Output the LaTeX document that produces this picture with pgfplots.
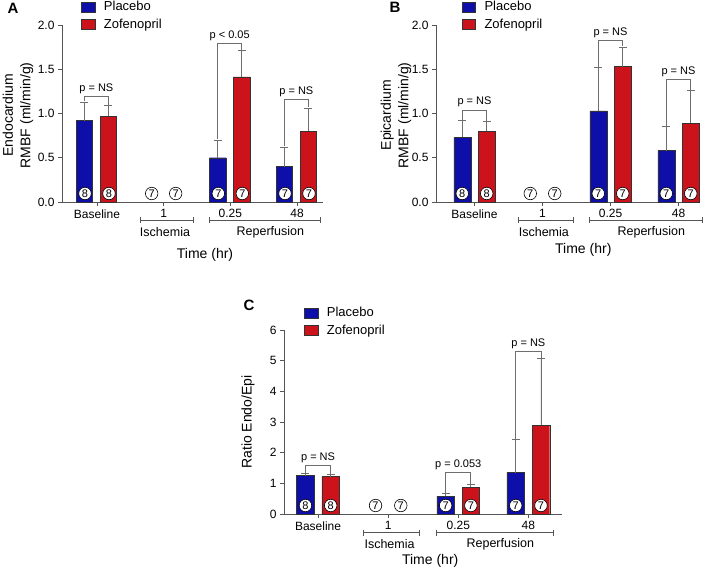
\documentclass[border=0pt]{standalone}
\usepackage{fontspec}
\setmainfont{Liberation Sans}
\usepackage{pgfplots}
\pgfplotsset{compat=1.18}

\definecolor{pblue}{RGB}{14,14,168}
\definecolor{zred}{RGB}{204,18,26}
\definecolor{axgray}{RGB}{85,85,85}
\definecolor{ebgray}{RGB}{110,110,110}

\tikzset{
  cnt/.style={circle, draw=black, fill=white, line width=0.6pt, inner sep=0pt,
    minimum size=12.5pt, font=\fontsize{11}{11}\selectfont},
  grp/.style={axgray, line width=0.7pt},
  brk/.style={ebgray, line width=0.8pt},
}

\pgfplotsset{
  panel/.style={
    scale only axis, axis lines=left, axis line style={-, axgray, line width=0.7pt},
    anchor=south west, clip=false,
    xtick={0,1,2,3}, xticklabels={Baseline,1,0.25,48},
    tick align=outside, major tick length=4pt, tick style={axgray, line width=0.7pt},
    ticklabel style={font=\fontsize{12}{12}\selectfont},
    /pgf/number format/assume math mode=true,
    ymin=0,
    legend style={draw=none, fill=none, font=\fontsize{13}{15}\selectfont,
      legend cell align=left, anchor=north west, row sep=2.5pt, inner sep=0pt},
    legend image code/.code={\draw[#1, line width=0.4pt] (0pt,-5pt) rectangle (13.5pt,5pt);
      \path[draw=none, fill=none] (20.5pt,0pt) circle (0pt);},
  },
  pbar/.style={ybar, bar width=0.25, bar shift=0pt, fill=pblue, draw=black!80, line width=0.4pt, forget plot,
     error bars/.cd, y dir=plus, y explicit, error bar style={ebgray, line width=0.8pt},
     error mark options={rotate=90, ebgray, mark size=4pt, line width=0.8pt}},
  zbar/.style={ybar, bar width=0.25, bar shift=0pt, fill=zred, draw=black!80, line width=0.4pt, forget plot,
     error bars/.cd, y dir=plus, y explicit, error bar style={ebgray, line width=0.8pt},
     error mark options={rotate=90, ebgray, mark size=4pt, line width=0.8pt}},
}

\newcommand{\groups}[1]{%
  \draw[grp] ([yshift=-#1]axis cs:0.65,0) -- ([yshift=-#1]axis cs:1.45,0);
  \draw[grp] ([yshift=-#1+3pt]axis cs:0.65,0) -- ([yshift=-#1-3pt]axis cs:0.65,0);
  \draw[grp] ([yshift=-#1+3pt]axis cs:1.45,0) -- ([yshift=-#1-3pt]axis cs:1.45,0);
  \node[font=\fontsize{12.5}{12.5}\selectfont] at ([yshift=-#1-11.5pt]axis cs:1.02,0) {Ischemia};
  \draw[grp] ([yshift=-#1]axis cs:1.69,0) -- ([yshift=-#1]axis cs:3.35,0);
  \draw[grp] ([yshift=-#1+3pt]axis cs:1.69,0) -- ([yshift=-#1-3pt]axis cs:1.69,0);
  \draw[grp] ([yshift=-#1+3pt]axis cs:3.35,0) -- ([yshift=-#1-3pt]axis cs:3.35,0);
  \node[font=\fontsize{12.5}{12.5}\selectfont] at ([yshift=-#1-11.5pt]axis cs:2.6,0) {Reperfusion};
}
% bracket: x1, y1 (left leg bottom), x2, y2, ytop, label
\newcommand{\sig}[6]{%
  \draw[brk] (axis cs:#1,#2) -- (axis cs:#1,#5) -- (axis cs:#3,#5) -- (axis cs:#3,#4);
  \node[font=\fontsize{11}{11}\selectfont, anchor=south, inner sep=2.5pt] at (axis cs:{(#1+#3)/2},#5) {#6};
}
\newcommand{\counts}[3]{%
  \node[cnt, yshift=8.5pt] at (axis cs:-0.18,0) {#1};
  \node[cnt, yshift=8.5pt] at (axis cs:0.18,0) {#1};
  \node[cnt, yshift=8.5pt] at (axis cs:0.82,0) {#2};
  \node[cnt, yshift=8.5pt] at (axis cs:1.18,0) {#2};
  \node[cnt, yshift=8.5pt] at (axis cs:1.82,0) {#3};
  \node[cnt, yshift=8.5pt] at (axis cs:2.18,0) {#3};
  \node[cnt, yshift=8.5pt] at (axis cs:2.82,0) {#3};
  \node[cnt, yshift=8.5pt] at (axis cs:3.18,0) {#3};
}

\begin{document}
\begin{tikzpicture}
\path[use as bounding box] (0pt,0pt) rectangle (709pt,570pt);

% ---------------- Panel A ----------------
\begin{axis}[panel, at={(62pt,368pt)}, width=261pt, height=177pt,
  xmin=-0.525, xmax=3.39, ymax=2, ytick={0,0.5,1,1.5,2},
  yticklabel style={/pgf/number format/.cd, fixed, fixed zerofill, precision=1},
  legend style={at={(rel axis cs:0.073,1.145)}}]
\addlegendimage{fill=pblue, draw=black!80}\addlegendentry{Placebo}
\addlegendimage{fill=zred, draw=black!80}\addlegendentry{Zofenopril}
\addplot[pbar] coordinates {(-0.19,0.92) +- (0,0.21) (1.81,0.50) +- (0,0.20) (2.81,0.40) +- (0,0.22)};
\addplot[zbar] coordinates {(0.17,0.97) +- (0,0.12) (2.17,1.415) +- (0,0.295) (3.17,0.80) +- (0,0.26)};
\sig{-0.19}{1.14}{0.17}{1.10}{1.19}{p = NS}
\sig{1.81}{0.71}{2.17}{1.72}{1.79}{p < 0.05}
\sig{2.81}{0.63}{3.17}{1.07}{1.16}{p = NS}
\counts{8}{7}{7}
\groups{18.5pt}
\node[font=\fontsize{14}{14}\selectfont] at ([yshift=-53pt]axis cs:1.62,0) {Time (hr)};
\node[rotate=90, align=center, font=\fontsize{14}{17.5}\selectfont] at ([xshift=-44pt]rel axis cs:0,0.49) {Endocardium\\RMBF (ml/min/g)};
\end{axis}

% ---------------- Panel B ----------------
\begin{axis}[panel, at={(436pt,368pt)}, width=264pt, height=177pt,
  xmin=-0.566, xmax=3.316, ymax=2, ytick={0,0.5,1,1.5,2},
  yticklabel style={/pgf/number format/.cd, fixed, fixed zerofill, precision=1},
  legend style={at={(rel axis cs:0.097,1.145)}}]
\addlegendimage{fill=pblue, draw=black!80}\addlegendentry{Placebo}
\addlegendimage{fill=zred, draw=black!80}\addlegendentry{Zofenopril}
\addplot[pbar] coordinates {(-0.18,0.73) +- (0,0.19) (1.82,1.03) +- (0,0.49) (2.82,0.58) +- (0,0.27)};
\addplot[zbar] coordinates {(0.18,0.80) +- (0,0.11) (2.18,1.53) +- (0,0.22) (3.18,0.89) +- (0,0.37)};
\sig{-0.18}{0.93}{0.18}{0.92}{1.04}{p = NS}
\sig{1.82}{1.53}{2.18}{1.76}{1.83}{p = NS}
\sig{2.82}{0.86}{3.18}{1.27}{1.38}{p = NS}
\counts{8}{7}{7}
\groups{18.5pt}
\node[font=\fontsize{14}{14}\selectfont] at ([yshift=-48pt]axis cs:1.6,0) {Time (hr)};
\node[rotate=90, align=center, font=\fontsize{14}{17.5}\selectfont] at ([xshift=-40pt]rel axis cs:0,0.49) {Epicardium\\RMBF (ml/min/g)};
\end{axis}

% ---------------- Panel C ----------------
\begin{axis}[panel, at={(284pt,56pt)}, width=278pt, height=184pt,
  xmin=-0.486, xmax=3.48, ymax=6, ytick={0,1,2,3,4,5,6},
  legend style={at={(rel axis cs:0.072,1.135)}}]
\addlegendimage{fill=pblue, draw=black!80}\addlegendentry{Placebo}
\addlegendimage{fill=zred, draw=black!80}\addlegendentry{Zofenopril}
\addplot[pbar] coordinates {(-0.18,1.25) +- (0,0.08) (1.82,0.58) +- (0,0.09) (2.82,1.35) +- (0,1.09)};
\addplot[zbar] coordinates {(0.18,1.22) +- (0,0.08) (2.18,0.87) +- (0,0.09) (3.18,2.89) +- (0,2.19)};
\sig{-0.18}{1.35}{0.18}{1.32}{1.57}{p = NS}
\sig{1.82}{0.69}{2.18}{0.98}{1.35}{p = 0.053}
\sig{2.82}{2.46}{3.18}{5.10}{5.31}{p = NS}
\counts{8}{7}{7}
\groups{18.5pt}
\node[font=\fontsize{14}{14}\selectfont] at ([yshift=-47pt]axis cs:1.6,0) {Time (hr)};
\node[rotate=90, font=\fontsize{14}{14}\selectfont] at ([xshift=-36pt]rel axis cs:0,0.5) {Ratio Endo/Epi};
\end{axis}

\node[font=\bfseries\fontsize{15}{15}\selectfont] at (13pt,562pt) {A};
\node[font=\bfseries\fontsize{15}{15}\selectfont] at (395pt,563pt) {B};
\node[font=\bfseries\fontsize{15}{15}\selectfont] at (249pt,265pt) {C};
\end{tikzpicture}
\end{document}
